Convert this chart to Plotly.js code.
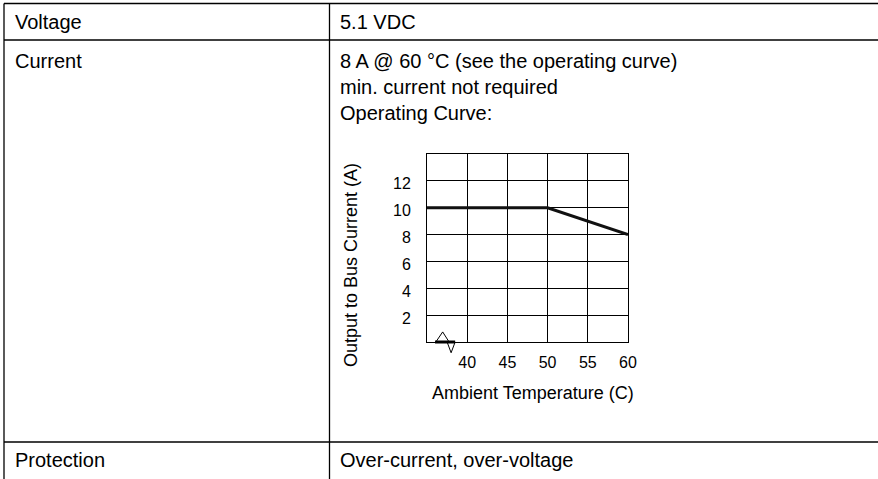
<!DOCTYPE html>
<html>
<head>
<meta charset="utf-8">
<script src="https://cdn.plot.ly/plotly-3.0.1.min.js"></script>
<style>
  html, body { margin: 0; padding: 0; background: #fff; }
  #chart { width: 878px; height: 479px; }
</style>
</head>
<body>
<div id="chart"></div>
<script>
// ---- Data ----
const temperatureC = [35, 50, 60];          // Ambient temperature (C)
const busCurrentA = [10, 10, 8];            // Output to bus current (A)
const xTickVals = [40, 45, 50, 55, 60];
const xTickText = ['40', '45', '50', '55', '60'];
const yTickVals = [2, 4, 6, 8, 10, 12];
const yTickText = ['2', '4', '6', '8', '10', '12'];
const yGridVals = [0, 2, 4, 6, 8, 10, 12, 14];

// axis-break symbol (decoration near the origin)
const breakUpX = [36.1, 36.95, 37.75, 36.1];
const breakUpY = [0, 0.75, 0, 0];
const breakDownX = [37.5, 38.0, 38.5, 37.5];
const breakDownY = [0, -0.8, 0, 0];
const breakBarX = [36.0, 38.5];
const breakBarY = [0, 0];

// table text
const rowLabels = ['Voltage', 'Current', 'Protection'];
const voltageText = '5.1 VDC';
const currentLines = ['8 A @ 60 °C (see the operating curve)', 'min. current not required', 'Operating Curve:'];
const protectionText = 'Over-current, over-voltage';
const xTitle = 'Ambient Temperature (C)';
const yTitle = 'Output to Bus Current (A)';

// ---- Layout helpers (pixel -> paper) ----
const W = 878, H = 479;
const px = x => x / W;
const py = y => 1 - y / H;

const FONT = 'Liberation Sans, Arial, sans-serif';
const chartFont = { family: FONT, size: 16, color: '#000' };

function line(x0, y0, x1, y1, w) {
  return { type: 'line', xref: 'paper', yref: 'paper',
           x0: px(x0), y0: py(y0), x1: px(x1), y1: py(y1),
           line: { color: '#000', width: w || 1 } };
}

function textAt(text, x, baseline, size) {
  const f = size || 20;
  return { text: text, xref: 'paper', yref: 'paper', x: px(x), y: py(baseline - 0.35 * f),
           xanchor: 'left', yanchor: 'middle', showarrow: false,
           font: { family: FONT, size: f, color: '#000' } };
}

const shapes = [
  line(4, 3.5, W, 3.5, 1.3),
  line(4, 40, W, 40, 1.3),
  line(4, 442, W, 442, 1.3),
  line(4, 3.5, 4, H, 1.3),
  line(329.5, 3.5, 329.5, H, 1.3)
];

const annotations = [
  textAt(rowLabels[0], 13, 29),
  textAt(voltageText, 338, 29),
  textAt(rowLabels[1], 13, 68),
  textAt(currentLines[0], 338, 68),
  textAt(currentLines[1], 338, 94),
  textAt(currentLines[2], 338, 120),
  textAt(rowLabels[2], 13, 467),
  textAt(protectionText, 338, 467),
  { text: xTitle, xref: 'paper', yref: 'paper', x: px(533), y: py(393),
    xanchor: 'center', yanchor: 'middle', showarrow: false,
    font: { family: FONT, size: 18, color: '#000' } },
  { text: yTitle, xref: 'paper', yref: 'paper', x: px(351), y: py(265),
    xanchor: 'center', yanchor: 'middle', showarrow: false, textangle: -90,
    font: { family: FONT, size: 18, color: '#000' } }
];

// plot box: x 427..628 px, y 154..342 px; y scale 188px / 14 units
const yPxPerUnit = 188 / 14;
const breakBottomPx = 358;
const y3Min = -(breakBottomPx - 342) / yPxPerUnit;

const traces = [
  { type: 'scatter', mode: 'markers', x: [temperatureC[0]], y: [busCurrentA[0]],
    yaxis: 'y2', marker: { opacity: 0 }, hoverinfo: 'skip' },
  { type: 'scatter', mode: 'lines', x: temperatureC, y: busCurrentA,
    line: { color: '#111', width: 3 }, hoverinfo: 'skip' },
  { type: 'scatter', mode: 'lines', x: breakUpX, y: breakUpY, xaxis: 'x2', yaxis: 'y3',
    line: { color: '#000', width: 1 }, hoverinfo: 'skip' },
  { type: 'scatter', mode: 'lines', x: breakDownX, y: breakDownY, xaxis: 'x2', yaxis: 'y3',
    line: { color: '#000', width: 1 }, hoverinfo: 'skip' },
  { type: 'scatter', mode: 'lines', x: breakBarX, y: breakBarY, xaxis: 'x2', yaxis: 'y3',
    line: { color: '#000', width: 3 }, hoverinfo: 'skip' }
];

const layout = {
  width: W, height: H,
  margin: { l: 0, r: 0, t: 0, b: 0, pad: 0 },
  paper_bgcolor: '#fff', plot_bgcolor: 'rgba(0,0,0,0)',
  showlegend: false,
  font: chartFont,
  xaxis: {
    domain: [px(427), px(628)],
    range: [35, 60],
    tickvals: xTickVals, ticktext: xTickText,
    showgrid: true, gridcolor: '#000', gridwidth: 1,
    zeroline: false, showline: true, linecolor: '#000', linewidth: 1, mirror: true,
    ticks: '', ticklabelstandoff: 6,
    tickfont: chartFont, fixedrange: true
  },
  yaxis: {
    domain: [py(342), py(154)],
    range: [0, 14],
    tickvals: yTickVals, ticktext: yTickText,
    showgrid: false,
    zeroline: false, showline: true, linecolor: '#000', linewidth: 1, mirror: true,
    ticks: '', ticklabelstandoff: 12, ticklabelshift: 3,
    tickfont: chartFont, fixedrange: true
  },
  yaxis2: {
    overlaying: 'y', domain: [py(342), py(154)], range: [0, 14],
    tickvals: yGridVals, showticklabels: false,
    showgrid: true, gridcolor: '#000', gridwidth: 1, zeroline: false
  },
  xaxis2: {
    domain: [px(427), px(628)], range: [35, 60], anchor: 'y3',
    visible: false, showgrid: false, zeroline: false, fixedrange: true
  },
  yaxis3: {
    domain: [py(breakBottomPx), py(154)], range: [y3Min, 14], anchor: 'x2',
    visible: false, showgrid: false, zeroline: false, fixedrange: true
  },
  shapes: shapes,
  annotations: annotations
};

Plotly.newPlot('chart', traces, layout, { displayModeBar: false, staticPlot: true });
</script>
</body>
</html>
